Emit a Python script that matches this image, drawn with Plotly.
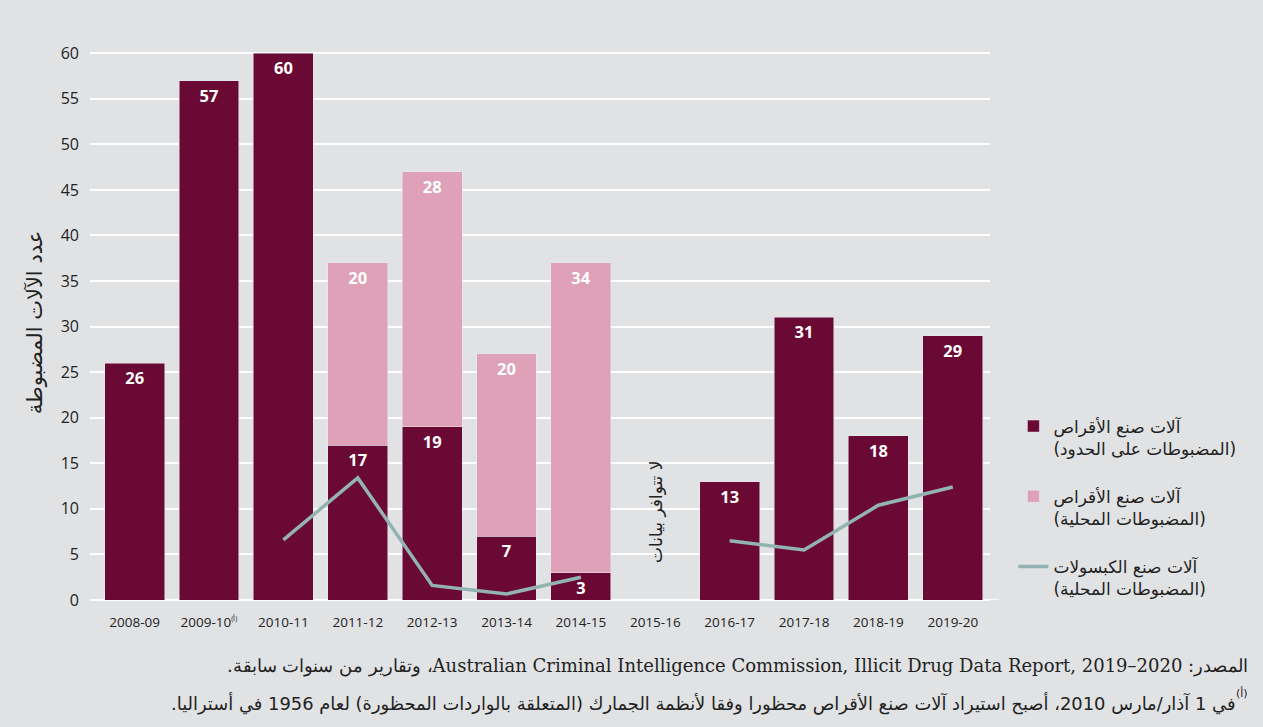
import plotly.graph_objects as go

categories = ["2008-09", "2009-10", "2010-11", "2011-12", "2012-13", "2013-14",
              "2014-15", "2015-16", "2016-17", "2017-18", "2018-19", "2019-20"]
tick_labels = ["2008-09", "2009-10<sup><span style='font-size:7px'>(أ)</span></sup>", "2010-11", "2011-12",
               "2012-13", "2013-14", "2014-15", "2015-16", "2016-17", "2017-18", "2018-19", "2019-20"]
border_seized = [26, 57, 60, 17, 19, 7, 3, None, 13, 31, 18, 29]
domestic_tablet = [None, None, None, 20, 28, 20, 34, None, None, None, None, None]
domestic_capsule = [None, None, 6.6, 13.4, 1.6, 0.66, 2.5, None, 6.5, 5.5, 10.4, 12.4]

name_border = "آلات صنع الأقراص<br>(المضبوطات على الحدود)"
name_dom_tab = "آلات صنع الأقراص<br>(المضبوطات المحلية)"
name_dom_cap = "آلات صنع الكبسولات<br>(المضبوطات المحلية)"
y_title = "عدد الآلات المضبوطة"
no_data = "لا تتوافر بيانات"
source_note = "\u202bالمصدر: Australian Criminal Intelligence Commission, Illicit Drug Data Report, 2019–2020، وتقارير من سنوات سابقة.\u202c"
footnote = "\u202bفي 1 آذار/مارس 2010، أصبح استيراد آلات صنع الأقراص محظورا وفقا لأنظمة الجمارك (المتعلقة بالواردات المحظورة) لعام 1956 في أستراليا.\u202c"
footnote_mark = "(أ)"

DARK = "#6a0933"
PINK = "#dea1b7"
TEAL = "#93b3b3"
BG = "#e1e2e4"

label_font = dict(color="white", size=16.5, family="Open Sans", weight="bold")


def present(values):
    pairs = [(c, v) for c, v in zip(categories, values) if v is not None]
    return [p[0] for p in pairs], [p[1] for p in pairs]


fig = go.Figure()
bx, by = present(border_seized)
fig.add_trace(go.Bar(
    x=bx, y=by, name=name_border, marker_color=DARK,
    text=[str(v) for v in by], textposition="inside", insidetextanchor="end",
    textangle=0, constraintext="none", textfont=label_font,
    legendgroup="a", legendrank=1,
))
px_, py_ = present(domestic_tablet)
fig.add_trace(go.Bar(
    x=px_, y=py_, name=name_dom_tab, marker_color=PINK,
    text=[str(v) for v in py_], textposition="inside", insidetextanchor="end",
    textangle=0, constraintext="none", textfont=label_font,
    legendgroup="b", legendrank=2,
))
fig.add_trace(go.Scatter(
    x=categories, y=domestic_capsule, name=name_dom_cap, mode="lines",
    line=dict(color=TEAL, width=3.5), connectgaps=False,
    legendgroup="c", legendrank=3,
))

fig.add_annotation(x="2015-16", y=9.7, xref="x", yref="y", text=no_data, textangle=-90,
                   showarrow=False, font=dict(size=17, color="#222", family="DejaVu Sans"))

fig.add_annotation(x=1.289, y=-0.119, xref="paper", yref="paper", xanchor="right", yanchor="middle",
                   text=source_note, showarrow=False, align="right",
                   font=dict(size=18, color="#222", family="DejaVu Serif"))
fig.add_annotation(x=1.2744, y=-0.187, xref="paper", yref="paper", xanchor="right", yanchor="middle",
                   text=footnote, showarrow=False, align="right",
                   font=dict(size=17.9, color="#222", family="DejaVu Sans"))
fig.add_annotation(x=1.289, y=-0.168, xref="paper", yref="paper", xanchor="right", yanchor="middle",
                   text=footnote_mark, showarrow=False,
                   font=dict(size=11, color="#222", family="DejaVu Sans"))

fig.update_layout(
    width=1263, height=727,
    barmode="stack", bargap=0.195,
    paper_bgcolor=BG, plot_bgcolor=BG,
    margin=dict(l=90, r=273, t=45, b=127),
    font=dict(family="Open Sans", color="#222"),
    showlegend=True,
    legend=dict(x=1.026, xanchor="left", y=0.345, yanchor="top", valign="top",
                tracegroupgap=23, font=dict(size=17, family="DejaVu Sans", color="#222"),
                bgcolor="rgba(0,0,0,0)", itemwidth=30),
    xaxis=dict(type="category", tickmode="array", tickvals=categories, ticktext=tick_labels,
               categoryorder="array", categoryarray=categories,
               range=[-0.6, 11.5], showgrid=False, tickfont=dict(size=13.5, color="#222"),
               ticks="", showline=False, zeroline=False, ticklabelstandoff=12),
    yaxis=dict(range=[0, 60.9], tickvals=list(range(0, 61, 5)), showgrid=True,
               gridcolor="white", gridwidth=1.5, zeroline=True, zerolinecolor="white",
               zerolinewidth=1.5, tickfont=dict(size=16, color="#222"), ticklabelstandoff=10,
               title=dict(text=y_title, font=dict(size=21, family="DejaVu Sans", color="#222"),
                          standoff=12)),
)
fig.add_shape(type="line", xref="paper", yref="y", x0=0.99, x1=1.01, y0=0, y1=0,
              line=dict(color="white", width=1.5), layer="below")

fig.write_html("out.html")
